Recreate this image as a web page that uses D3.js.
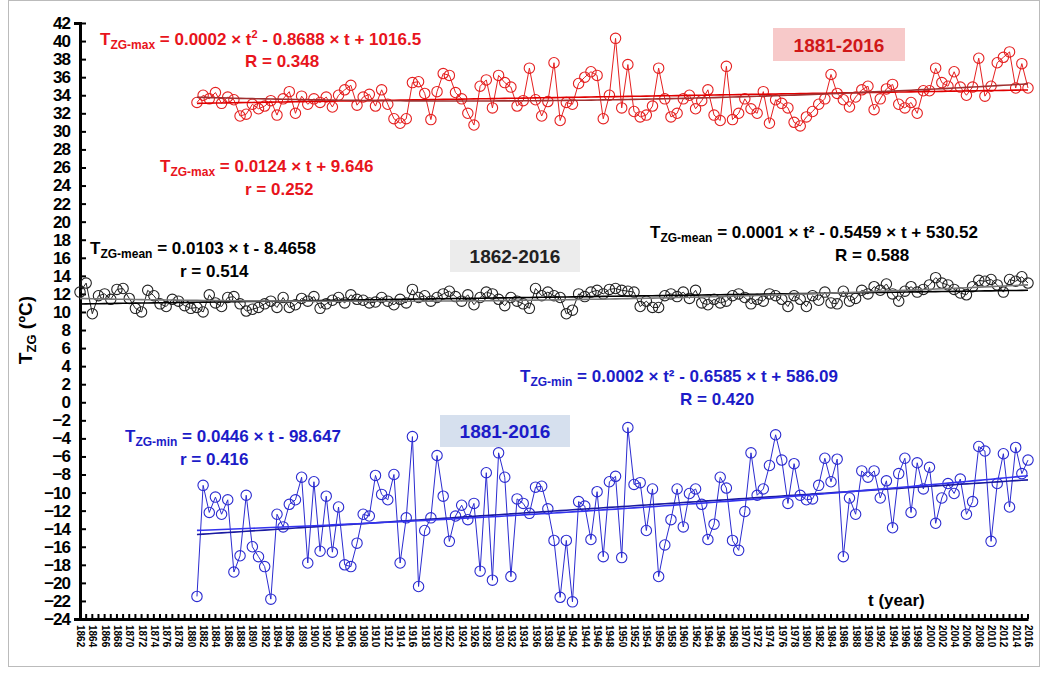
<!DOCTYPE html>
<html><head><meta charset="utf-8">
<script src="https://cdn.jsdelivr.net/npm/d3@7/dist/d3.min.js"></script>
<style>body{margin:0;background:#fff;font-family:"Liberation Sans",Arial,sans-serif}</style>
</head><body><svg id="c" width="1041" height="677"></svg>
<script>
const maxStart=1881, meanStart=1862, minStart=1881;
const tMax=[33.2,34.0,33.6,34.3,33.1,33.8,33.5,31.7,31.9,33.0,
32.5,32.8,33.4,31.8,33.6,34.4,32.0,33.9,33.0,33.6,
33.2,33.8,32.7,34.0,34.6,35.1,32.9,33.8,34.1,32.8,
34.6,33.0,31.4,30.9,31.4,35.4,35.5,34.2,31.3,34.4,
36.4,36.2,34.3,33.6,32.0,30.7,35.0,35.7,32.6,36.2,
35.4,34.9,32.8,33.4,37.0,33.5,31.7,33.3,37.6,31.2,
33.2,33.0,35.3,36.0,36.6,36.2,31.4,34.0,40.3,32.6,
37.4,32.2,31.6,31.8,32.8,37.0,33.6,31.6,32.0,33.6,
34.0,32.5,33.4,34.6,31.8,31.2,37.2,31.3,32.0,33.6,
32.5,32.0,34.4,30.9,33.5,33.1,32.6,31.0,30.6,31.6,
32.2,33.0,33.6,36.3,34.2,33.5,32.7,33.8,34.6,35.0,
32.4,33.6,34.7,35.2,33.0,32.6,33.2,32.0,34.5,34.5,
37.0,35.4,35.0,36.6,34.9,34.0,34.9,38.1,33.9,35.0,
37.6,38.2,38.8,34.8,37.5,34.8];
const tMean=[12.2,13.2,9.8,11.8,12.0,11.4,12.5,12.6,11.5,10.4,
10.0,12.4,11.8,10.9,10.6,11.4,11.2,10.7,10.4,10.5,
10.0,11.9,11.0,10.6,11.6,11.7,10.9,10.1,10.3,10.5,
10.9,11.2,10.5,11.6,10.5,10.8,11.5,11.2,11.7,10.4,
10.9,11.3,11.6,11.0,11.9,11.4,11.3,11.0,11.1,11.6,
11.2,10.8,11.4,11.0,12.5,11.6,11.8,11.2,11.6,12.0,
12.3,11.7,11.2,11.9,10.8,11.6,12.2,12.0,11.4,10.7,
11.6,11.2,10.9,10.4,12.6,11.8,12.2,11.8,11.6,9.8,
10.2,12.0,11.7,12.2,12.4,12.0,12.5,12.6,12.4,12.3,
12.2,10.6,11.2,10.5,10.5,11.8,12.0,11.7,12.2,11.5,
12.4,11.0,10.8,11.4,11.0,11.2,11.8,12.0,11.6,10.9,
11.4,11.2,12.0,11.8,11.4,10.6,11.8,11.4,10.6,11.8,
11.3,12.2,11.0,10.9,12.3,11.2,11.5,12.4,12.0,12.8,
12.4,13.1,12.0,11.2,12.3,12.8,12.2,12.5,13.0,13.8,
13.2,13.0,12.5,12.1,11.9,12.8,13.5,13.4,13.6,13.0,
12.2,13.6,13.4,13.9,13.2];
const tMin=[-21.5,-9.2,-12.2,-10.5,-12.4,-10.8,-18.8,-17.0,-10.3,-16.0,
-17.1,-18.2,-21.8,-12.4,-13.8,-11.3,-10.8,-8.3,-17.8,-8.8,
-16.5,-10.4,-16.6,-11.6,-18.0,-18.2,-15.6,-12.4,-12.6,-8.1,
-10.2,-10.8,-8.0,-17.8,-12.8,-3.8,-20.4,-14.2,-12.8,-5.9,
-10.4,-15.4,-12.6,-11.4,-13.0,-11.2,-18.7,-7.8,-19.7,-5.6,
-8.3,-19.3,-10.7,-11.2,-12.3,-9.4,-9.3,-11.8,-15.3,-21.6,
-15.3,-22.1,-11.0,-11.5,-15.2,-9.9,-17.1,-8.8,-8.2,-17.2,
-2.8,-9.1,-8.9,-14.2,-9.6,-19.3,-15.8,-13.0,-9.6,-13.8,
-10.1,-9.6,-11.3,-15.2,-13.5,-8.3,-9.5,-15.3,-16.4,-12.1,
-5.6,-10.3,-9.6,-7.0,-3.6,-6.4,-11.2,-6.8,-10.3,-10.8,
-10.7,-9.2,-6.2,-8.8,-6.3,-17.1,-10.6,-12.4,-7.6,-8.3,
-7.6,-10.6,-8.7,-13.9,-7.9,-6.2,-12.2,-6.7,-9.6,-7.2,
-13.4,-10.6,-9.0,-10.1,-8.5,-12.4,-11.0,-4.9,-5.4,-15.4,
-9.0,-5.7,-11.6,-5.0,-7.9,-6.4];
const yTicks=d3.range(-24,43,2);
const xTicks=d3.range(1862,2017,2);

const svg=d3.select("#c");
svg.append("rect").attr("x",8.5).attr("y",0.5).attr("width",1031).attr("height",666).attr("fill","none").attr("stroke","#bbb");
const L=80,R=1028,T=23,B=619;
const x=d3.scaleLinear().domain([1862,2016]).range([L,R]);
const y=d3.scaleLinear().domain([-24,42]).range([B,T]);

const ya=svg.append("g").attr("transform",`translate(${L},0)`).call(d3.axisLeft(y).tickValues(yTicks).tickSize(6).tickPadding(4));
ya.selectAll("text").attr("font-size",17).attr("font-weight","bold").attr("fill","#000").style("letter-spacing","-1px");
ya.select(".domain").attr("stroke-width",3);
ya.selectAll(".tick line").attr("stroke-width",2).attr("x2",6);
const xa=svg.append("g").attr("transform",`translate(0,${B})`).call(d3.axisBottom(x).tickValues(xTicks).tickSize(0).tickPadding(4).tickFormat(d3.format("d")));
xa.select(".domain").attr("stroke-width",3);
xa.selectAll("text").attr("font-size",10).attr("font-weight","bold").attr("fill","#000")
  .attr("transform","rotate(90)").attr("text-anchor","start").attr("dx",6).attr("dy",3.5).attr("y",0);
svg.append("g").selectAll("line").data(d3.range(1862,2017)).join("line")
  .attr("x1",d=>x(d)).attr("x2",d=>x(d)).attr("y1",B-5).attr("y2",B).attr("stroke","#000").attr("stroke-width",2);

function fit(xs,ys,deg){
  const n=deg+1, m=d3.mean(xs);
  const A=Array.from({length:n},()=>Array(n+1).fill(0));
  xs.forEach((xv,i)=>{const u=xv-m;for(let r=0;r<n;r++){for(let c=0;c<n;c++)A[r][c]+=Math.pow(u,r+c);A[r][n]+=ys[i]*Math.pow(u,r);}});
  for(let i=0;i<n;i++){for(let k=i+1;k<n;k++){const f=A[k][i]/A[i][i];for(let j=i;j<=n;j++)A[k][j]-=f*A[i][j];}}
  const c=Array(n).fill(0);
  for(let i=n-1;i>=0;i--){let s=A[i][n];for(let j=i+1;j<n;j++)s-=A[i][j]*c[j];c[i]=s/A[i][i];}
  return t=>c.reduce((s,cc,k)=>s+cc*Math.pow(t-m,k),0);
}
function series(vals,start,col,c1,c2){
  const yrs=vals.map((_,i)=>start+i);
  const g=svg.append("g");
  g.append("path").attr("d",d3.line().x((d,i)=>x(yrs[i])).y(d=>y(d))(vals)).attr("fill","none").attr("stroke",col).attr("stroke-width",1);
  g.selectAll("circle").data(vals).join("circle").attr("cx",(d,i)=>x(yrs[i])).attr("cy",d=>y(d)).attr("r",5.2)
   .attr("fill","none").attr("stroke",col).attr("stroke-width",1.1);
  [[1,c1],[2,c2]].forEach(([deg,cc])=>{
    const f=fit(yrs,vals,deg);
    g.append("path").attr("d",d3.line().x(d=>x(d)).y(d=>y(f(d)))(yrs)).attr("fill","none").attr("stroke",cc).attr("stroke-width",1.6);
  });
}
series(tMax,maxStart,"#e52020","#e00000","#a03030");
series(tMean,meanStart,"#222","#000","#777");
series(tMin,minStart,"#2b2bd0","#1a1aa0","#3333ee");

function eq(xp,yp,col,sub,rest){
  const t=svg.append("text").attr("x",xp).attr("y",yp).attr("fill",col).attr("font-weight","bold").attr("font-size",17);
  t.append("tspan").text("T");
  t.append("tspan").attr("font-size",12).attr("dy",4).text(sub);
  t.append("tspan").attr("dy",-4).text(rest);
}
function txt(xp,yp,col,s){svg.append("text").attr("x",xp).attr("y",yp).attr("fill",col).attr("font-weight","bold").attr("font-size",17).text(s);}
function box(x0,y0,w,h,bg,col,s){svg.append("rect").attr("x",x0).attr("y",y0).attr("width",w).attr("height",h).attr("fill",bg);
  svg.append("text").attr("x",x0+w/2).attr("y",y0+h/2+7).attr("text-anchor","middle").attr("fill",col).attr("font-weight","bold").attr("font-size",19).text(s);}

const red="#e8141c", blue="#1c1cc8";
const q=svg.append("text").attr("x",100).attr("y",45).attr("fill",red).attr("font-weight","bold").attr("font-size",17);
q.append("tspan").text("T");q.append("tspan").attr("font-size",12).attr("dy",4).text("ZG-max");
q.append("tspan").attr("dy",-4).text(" = 0.0002 × t");q.append("tspan").attr("font-size",11).attr("dy",-7).text("2");
q.append("tspan").attr("dy",7).text(" - 0.8688 × t + 1016.5");
txt(245,67,red,"R = 0.348");
box(773,28,132,33,"#f7c9c9","#d01818","1881-2016");
eq(160,172,red,"ZG-max"," = 0.0124 × t + 9.646");
txt(245,195,red,"r = 0.252");
eq(90,254,"#000","ZG-mean"," = 0.0103 × t - 8.4658");
txt(180,277,"#000","r = 0.514");
box(450,240,130,32,"#ececec","#222","1862-2016");
eq(650,238,"#000","ZG-mean"," = 0.0001 × t² - 0.5459 × t + 530.52");
txt(835,261,"#000","R = 0.588");
eq(520,382,blue,"ZG-min"," = 0.0002 × t² - 0.6585 × t + 586.09");
txt(680,405,blue,"R = 0.420");
box(440,415,130,32,"#d6e0ee","#1c1cc8","1881-2016");
eq(125,442,blue,"ZG-min"," = 0.0446  × t - 98.647");
txt(180,465,blue,"r = 0.416");
txt(868,606,"#000","t (year)");
const yl=svg.append("text").attr("transform","translate(32,330) rotate(-90)").attr("text-anchor","middle").attr("font-weight","bold").attr("font-size",19);
yl.append("tspan").text("T");yl.append("tspan").attr("font-size",13).attr("dy",4).text("ZG");yl.append("tspan").attr("dy",-4).text(" (ºC)");
</script></body></html>
